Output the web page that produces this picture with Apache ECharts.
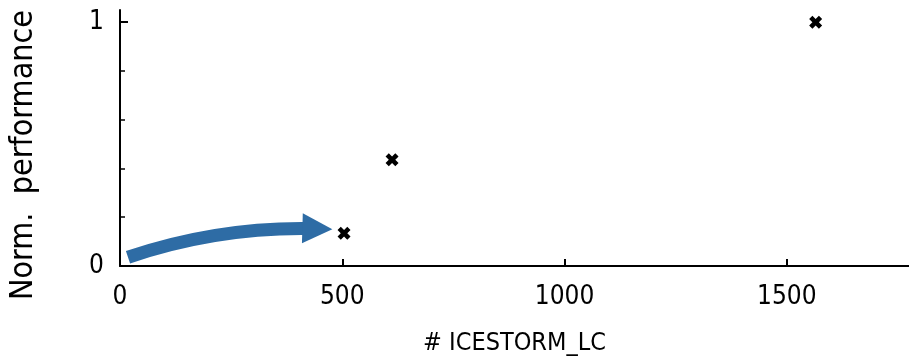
<!DOCTYPE html>
<html>
<head>
<meta charset="utf-8">
<script src="https://cdn.jsdelivr.net/npm/echarts@6/dist/echarts.min.js"></script>
<style>html,body{margin:0;padding:0;background:#fff;}#c{width:909px;height:361px;}</style>
</head>
<body>
<div id="c"></div>
<script>
const xValues = [504, 612, 1565];
const yValues = [0.134, 0.436, 1.0];
const xTicks = [0, 500, 1000, 1500];
const yTicks = [0, 1];
const arrowStart = [18, 0.036];
const arrowEnd = [444, 0.153];

const FONT = '"Liberation Sans Narrow", "DejaVu Sans Condensed", "Liberation Sans", sans-serif';
const chart = echarts.init(document.getElementById('c'), null, {renderer: 'canvas'});
const cross = 'path://M0,3 L3,0 L6,3 L9,0 L12,3 L9,6 L12,9 L9,12 L6,9 L3,12 L0,9 L3,6 Z';
chart.setOption({
  animation: false,
  backgroundColor: '#fff',
  grid: {left: 117, right: 0, top: 10, bottom: 93},
  xAxis: {
    type: 'value', min: 0, max: 1775, interval: 500,
    name: '# ICESTORM_LC', nameLocation: 'middle', nameGap: 65,
    nameTextStyle: {fontFamily: FONT, fontSize: 25, color: '#000'},
    axisLine: {show: true, lineStyle: {color: '#000', width: 2}},
    axisTick: {show: true, inside: true, length: 7, lineStyle: {color: '#000', width: 2},
      customValues: xTicks},
    axisLabel: {fontFamily: FONT, fontSize: 26, color: '#000', margin: 18, customValues: xTicks,
      formatter: v => String(v)},
    splitLine: {show: false}
  },
  yAxis: {
    type: 'value', min: 0, max: 1.05, interval: 1,
    name: 'Norm.  performance', nameLocation: 'middle', nameGap: 80,
    nameTextStyle: {fontFamily: FONT, fontSize: 32, color: '#000', padding: [0, 34, 0, 0]},
    axisLine: {show: true, lineStyle: {color: '#000', width: 2}},
    axisTick: {show: true, inside: true, length: 8, lineStyle: {color: '#000', width: 2},
      customValues: yTicks},
    minorTick: {show: true, splitNumber: 5, length: 5, lineStyle: {color: '#000', width: 1.5}},
    axisLabel: {fontFamily: FONT, fontSize: 26, color: '#000', margin: 16, customValues: yTicks,
      padding: [9, 0, 0, 0], formatter: v => String(v)},
    splitLine: {show: false}, minorSplitLine: {show: false}
  },
  series: [
    {
      type: 'lines', coordinateSystem: 'cartesian2d', silent: true, z: 1,
      symbol: ['none', 'triangle'], symbolSize: [29, 30],
      lineStyle: {color: '#2e6ca5', width: 13, curveness: 0.09, opacity: 1, cap: 'butt'},
      itemStyle: {color: '#2e6ca5'},
      data: [{coords: [arrowStart, arrowEnd]}]
    },
    {
      type: 'scatter', z: 3, symbol: cross, symbolSize: 13,
      itemStyle: {color: '#000', opacity: 1},
      data: xValues.map((x, i) => [x, yValues[i]])
    }
  ]
});
</script>
</body>
</html>
